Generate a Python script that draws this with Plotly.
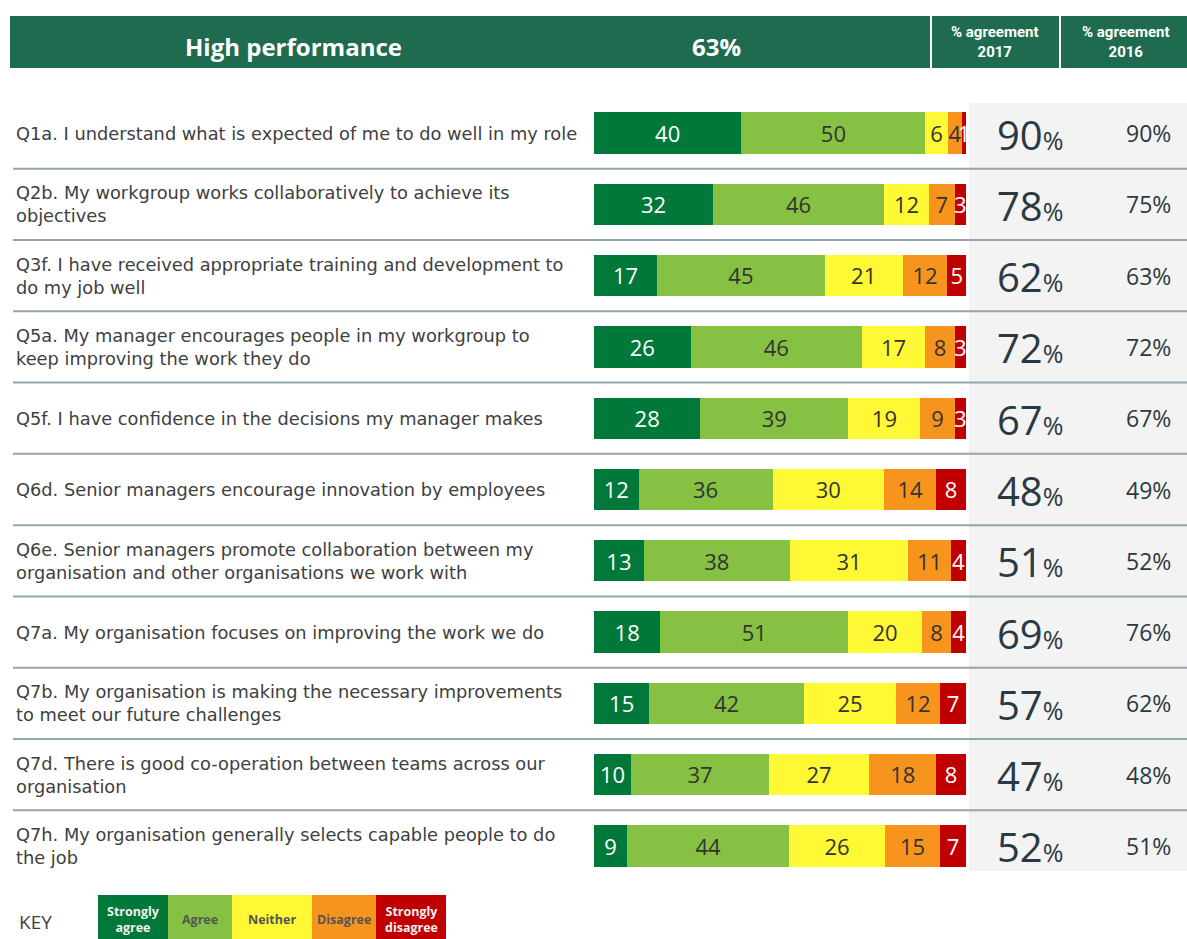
import plotly.graph_objects as go

# ---------------- data ----------------
question_ids = ["Q1a", "Q2b", "Q3f", "Q5a", "Q5f", "Q6d", "Q6e", "Q7a", "Q7b", "Q7d", "Q7h"]
question_text = [
    "Q1a. I understand what is expected of me to do well in my role",
    "Q2b. My workgroup works collaboratively to achieve its<br>objectives",
    "Q3f. I have received appropriate training and development to<br>do my job well",
    "Q5a. My manager encourages people in my workgroup to<br>keep improving the work they do",
    "Q5f. I have confidence in the decisions my manager makes",
    "Q6d. Senior managers encourage innovation by employees",
    "Q6e. Senior managers promote collaboration between my<br>organisation and other organisations we work with",
    "Q7a. My organisation focuses on improving the work we do",
    "Q7b. My organisation is making the necessary improvements<br>to meet our future challenges",
    "Q7d. There is good co-operation between teams across our<br>organisation",
    "Q7h. My organisation generally selects capable people to do<br>the job",
]
strongly_agree    = [40, 32, 17, 26, 28, 12, 13, 18, 15, 10, 9]
agree             = [50, 46, 45, 46, 39, 36, 38, 51, 42, 37, 44]
neither           = [6, 12, 21, 17, 19, 30, 31, 20, 25, 27, 26]
disagree          = [4, 7, 12, 8, 9, 14, 11, 8, 12, 18, 15]
strongly_disagree = [1, 3, 5, 3, 3, 8, 4, 4, 7, 8, 7]
agreement_2017 = [90, 78, 62, 72, 67, 48, 51, 69, 57, 47, 52]
agreement_2016 = [90, 75, 63, 72, 67, 49, 52, 76, 62, 48, 51]

series_names = ["Strongly agree", "Agree", "Neither", "Disagree", "Strongly disagree"]
key_labels = ["Strongly<br>agree", "Agree", "Neither", "Disagree", "Strongly<br>disagree"]
header_title = "High performance"
header_score = "63%"
header_col1 = "% agreement<br>2017"
header_col2 = "% agreement<br>2016"

# ---------------- style ----------------
W, H = 1187, 939
colors = ["#00783a", "#86c143", "#fff835", "#f7941d", "#c00000"]
text_colors = ["#ffffff", "#333333", "#333333", "#333333", "#ffffff"]
header_green = "#1f6b4f"
body_font = "Open Sans"
label_font = "DejaVu Sans"

def px(x):
    return x / W

def py(y):
    return 1 - y / H

fig = go.Figure()
series_values = [strongly_agree, agree, neither, disagree, strongly_disagree]
for name, vals, c, tc in zip(series_names, series_values, colors, text_colors):
    fig.add_trace(go.Bar(
        y=question_ids, x=vals, orientation="h", name=name,
        marker=dict(color=c, line=dict(width=0)),
        text=[str(v) for v in vals], textposition="inside",
        insidetextanchor="middle", textangle=0,
        textfont=dict(family=body_font, size=24, color=tc),
        cliponaxis=False, showlegend=False,
    ))

shapes = []
# header band
shapes.append(dict(type="rect", xref="paper", yref="paper", x0=px(10), x1=1,
                   y0=py(68), y1=py(16), fillcolor=header_green, line_width=0, layer="below"))
for xv in (931, 1060):
    shapes.append(dict(type="line", xref="paper", yref="paper", x0=px(xv), x1=px(xv),
                       y0=py(68), y1=py(16), line=dict(color="white", width=2)))
# grey panel behind 2017/2016 values
shapes.append(dict(type="rect", xref="paper", yref="paper", x0=px(969), x1=1,
                   y0=py(871), y1=py(103), fillcolor="#f3f3f3", line_width=0, layer="below"))
# row separators
for k in range(len(question_ids) - 1):
    shapes.append(dict(type="line", xref="paper", yref="y", x0=px(13), x1=1,
                       y0=k + 0.5, y1=k + 0.5, line=dict(color="#93a5ad", width=2), layer="below"))

def ann(x, y, text, size, color, family=body_font, xanchor="center", yanchor="middle", align="center",
        yref="paper"):
    return dict(xref="paper", yref=yref, x=x, y=y, text=text, showarrow=False,
                xanchor=xanchor, yanchor=yanchor, align=align,
                font=dict(family=family, size=size, color=color))

annotations = []
annotations.append(ann(px(293), py(47), f"<b>{header_title}</b>", 24, "white"))
annotations.append(ann(px(716), py(47), f"<b>{header_score}</b>", 24, "white"))
annotations.append(ann(px(995), py(42), f"<b>{header_col1}</b>", 15, "white", family="Roboto"))
annotations.append(ann(px(1126), py(42), f"<b>{header_col2}</b>", 15, "white", family="Roboto"))

for qid, qt, a17, a16 in zip(question_ids, question_text, agreement_2017, agreement_2016):
    annotations.append(ann(px(14), qid, qt, 17.8, "#404040", family=label_font,
                           xanchor="left", align="left", yref="y"))
    a = ann(px(1030), qid, f"{a17}<span style='font-size:25px'>%</span>", 40, "#2b3a42", yref="y")
    a["yshift"] = -1
    annotations.append(a)
    annotations.append(ann(px(1148), qid, f"{a16}%", 23, "#2b3a42", yref="y"))

# key
annotations.append(ann(px(17), py(922), "KEY", 19, "#404040", xanchor="left"))
key_edges = [98, 168, 232, 312, 376, 446]
for i, (lab, c, tc) in enumerate(zip(key_labels, colors, text_colors)):
    x0, x1 = key_edges[i], key_edges[i + 1]
    shapes.append(dict(type="rect", xref="paper", yref="paper", x0=px(x0), x1=px(x1),
                       y0=py(939), y1=py(895), fillcolor=c, line_width=0))
    annotations.append(ann(px((x0 + x1) / 2), py(919), f"<b>{lab}</b>", 12.5,
                           "#f0f0f0" if tc == "#ffffff" else "#555555"))

fig.update_layout(
    width=W, height=H, margin=dict(l=0, r=0, t=0, b=0),
    paper_bgcolor="white", plot_bgcolor="rgba(0,0,0,0)",
    barmode="stack", barnorm="percent", bargap=0.42,
    uniformtext=dict(minsize=22, mode="show"),
    xaxis=dict(domain=[px(594), px(966)], range=[0, 100], visible=False, fixedrange=True),
    yaxis=dict(domain=[py(881.6), py(97.4)], type="category", categoryorder="array",
               categoryarray=question_ids, range=[10.5, -0.5], visible=False, fixedrange=True),
    shapes=shapes, annotations=annotations,
)

fig.write_html("out.html", config={"displayModeBar": False},
               post_script="document.body.style.margin='0';")
